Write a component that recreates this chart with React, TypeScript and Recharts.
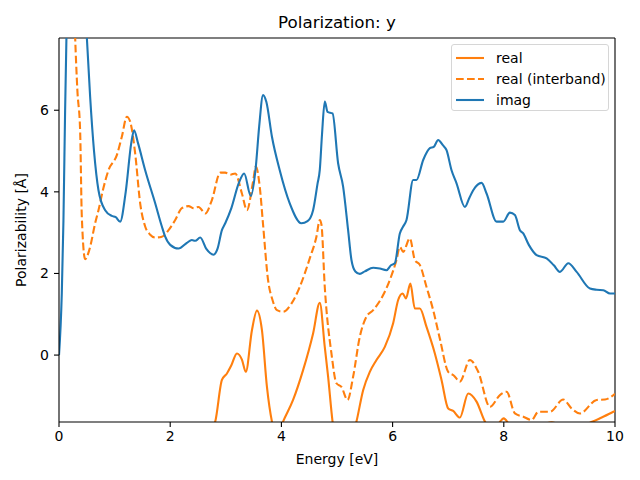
import React from 'react';
import { LineChart, Line, XAxis, YAxis, ReferenceLine } from 'recharts';

const ORANGE = '#ff7f0e';
const BLUE = '#1f77b4';
const FONT = 'DejaVu Sans, sans-serif';

const xTicks = [0, 2, 4, 6, 8, 10];
const yTicks = [0, 2, 4, 6];
const xDomain = [0, 10];
const yDomain = [-1.64, 7.77];

// energy (eV) / value pairs
const imagX = [0, 0.05, 0.08, 0.11, 0.15, 0.25, 0.4, 0.5, 0.56, 0.63, 0.71, 0.83, 0.95, 1.02, 1.1, 1.2, 1.3, 1.35, 1.42, 1.55, 1.73, 1.85, 1.91, 2.0, 2.15, 2.3, 2.39, 2.45, 2.54, 2.65, 2.78, 2.85, 2.93, 2.99, 3.1, 3.23, 3.33, 3.45, 3.54, 3.6, 3.67, 3.73, 3.83, 3.97, 4.15, 4.36, 4.47, 4.57, 4.65, 4.69, 4.73, 4.78, 4.83, 4.92, 5.02, 5.11, 5.2, 5.26, 5.33, 5.41, 5.5, 5.65, 5.77, 5.89, 5.97, 6.04, 6.13, 6.19, 6.25, 6.37, 6.43, 6.55, 6.67, 6.74, 6.82, 6.9, 6.97, 7.06, 7.15, 7.3, 7.38, 7.45, 7.6, 7.69, 7.87, 7.99, 8.11, 8.2, 8.29, 8.35, 8.45, 8.59, 8.77, 8.9, 9.01, 9.16, 9.31, 9.55, 9.67, 9.79, 9.91, 10];
const imagY = [0, 1.5, 3.3, 6, 9, 12, 11, 7.8, 6.33, 5.0, 4.04, 3.55, 3.41, 3.38, 3.27, 4.0, 5.2, 5.51, 5.2, 4.53, 3.72, 3.15, 2.9, 2.7, 2.61, 2.75, 2.82, 2.8, 2.88, 2.6, 2.46, 2.6, 3.06, 3.23, 3.6, 4.2, 4.45, 3.9, 4.62, 5.6, 6.37, 6.2, 5.35, 4.53, 3.72, 3.23, 3.28, 3.55, 4.2, 4.53, 5.4, 6.21, 5.96, 5.92, 4.7, 4.13, 3.06, 2.33, 2.05, 1.99, 2.05, 2.14, 2.12, 2.08, 2.2, 2.25, 2.98, 3.15, 3.31, 4.29, 4.29, 4.78, 5.07, 5.1, 5.27, 5.15, 5.02, 4.53, 4.21, 3.63, 3.85, 4.04, 4.22, 3.96, 3.27, 3.27, 3.49, 3.43, 3.06, 2.98, 2.7, 2.45, 2.37, 2.2, 2.04, 2.25, 2.04, 1.63, 1.6, 1.59, 1.51, 1.51];

const interX = [0, 0.15, 0.25, 0.29, 0.33, 0.38, 0.41, 0.47, 0.55, 0.65, 0.71, 0.8, 0.89, 1.04, 1.13, 1.22, 1.28, 1.37, 1.46, 1.55, 1.64, 1.73, 1.85, 1.97, 2.09, 2.21, 2.33, 2.42, 2.51, 2.63, 2.75, 2.9, 2.99, 3.08, 3.17, 3.29, 3.38, 3.49, 3.54, 3.61, 3.67, 3.76, 3.84, 3.92, 4.03, 4.18, 4.33, 4.51, 4.63, 4.69, 4.72, 4.78, 4.9, 4.99, 5.08, 5.19, 5.29, 5.41, 5.53, 5.65, 5.83, 5.95, 6.07, 6.13, 6.19, 6.31, 6.4, 6.49, 6.61, 6.73, 6.85, 7.0, 7.1, 7.21, 7.39, 7.54, 7.75, 7.93, 8.05, 8.2, 8.35, 8.5, 8.62, 8.83, 9.07, 9.22, 9.37, 9.67, 9.82, 10];
const interY = [20, 14, 9.5, 7.8, 6.5, 5.5, 3.4, 2.35, 2.6, 3.23, 3.55, 4.1, 4.53, 4.9, 5.35, 5.84, 5.72, 4.94, 3.72, 3.15, 2.95, 2.88, 2.9, 3.06, 3.31, 3.6, 3.65, 3.6, 3.63, 3.47, 3.8, 4.47, 4.47, 4.42, 4.45, 3.96, 3.55, 4.25, 4.62, 4.13, 3.2, 1.84, 1.35, 1.1, 1.06, 1.26, 1.67, 2.37, 2.9, 3.31, 3.2, 1.67, 0.04, -0.69, -0.78, -1.1, -0.53, 0.45, 0.94, 1.1, 1.47, 1.84, 2.33, 2.65, 2.53, 2.86, 2.33, 2.21, 1.67, 1.1, 0.4, -0.41, -0.5, -0.65, -0.12, -0.41, -1.27, -0.98, -0.9, -1.43, -1.51, -1.59, -1.39, -1.39, -1.09, -1.31, -1.43, -1.1, -1.09, -0.95];

const realX = [0, 0.5, 1, 1.5, 2, 2.5, 2.81, 2.93, 3.02, 3.1, 3.2, 3.29, 3.36, 3.47, 3.56, 3.65, 3.74, 3.83, 3.92, 4.03, 4.21, 4.39, 4.57, 4.69, 4.78, 4.84, 4.92, 5.1, 5.35, 5.47, 5.59, 5.71, 5.86, 6.01, 6.1, 6.18, 6.24, 6.32, 6.4, 6.49, 6.61, 6.76, 6.88, 7.0, 7.09, 7.21, 7.36, 7.51, 7.66, 7.8, 7.96, 8.0, 8.1, 8.4, 8.86, 9.2, 9.6, 9.73, 9.97, 10];
const realY = [-40, -15, -8, -5, -3.5, -2.4, -1.63, -0.61, -0.45, -0.25, 0.04, -0.11, -0.41, 0.61, 1.09, 0.61, -0.78, -1.63, -2.0, -1.63, -1.1, -0.37, 0.53, 1.28, 0.2, -0.53, -1.63, -2.6, -1.63, -0.86, -0.41, -0.12, 0.2, 0.78, 1.35, 1.51, 1.39, 1.75, 1.14, 1.14, 0.69, 0.04, -0.61, -1.31, -1.37, -1.53, -0.94, -1.14, -1.63, -1.85, -1.59, -1.55, -1.7, -1.85, -1.65, -1.8, -1.63, -1.55, -1.39, -1.37];

const toPoints = (xs: number[], ys: number[]) => xs.map((x, i) => ({ x, y: ys[i] }));

const imagData = toPoints(imagX, imagY);
const interData = toPoints(interX, interY);
const realData = toPoints(realX, realY);

const legendItems = [
  { label: 'real', color: ORANGE, dash: undefined },
  { label: 'real (interband)', color: ORANGE, dash: '7.7 3.3' },
  { label: 'imag', color: BLUE, dash: undefined },
];

const LegendBox = () => (
  <div
    style={{
      position: 'absolute',
      left: 451,
      top: 44,
      width: 158,
      height: 67,
      border: '1px solid #d6d6d6',
      borderRadius: 3,
      background: 'rgba(255,255,255,0.8)',
      padding: '2px 0 0 4px',
      fontFamily: FONT,
      fontSize: 14,
      color: '#000',
      boxSizing: 'border-box',
      whiteSpace: 'nowrap',
    }}
  >
    {legendItems.map((it) => (
      <div key={it.label} style={{ display: 'flex', alignItems: 'center', height: 21.3 }}>
        <svg width={28} height={10} style={{ marginRight: 12 }}>
          <line x1={0} y1={5} x2={28} y2={5} stroke={it.color} strokeWidth={2.1} strokeDasharray={it.dash} />
        </svg>
        <span>{it.label}</span>
      </div>
    ))}
  </div>
);

const axisStroke = { stroke: '#000', strokeWidth: 1.1 };

export default function App() {
  return (
    <div style={{ position: 'absolute', left: 0, top: 0, width: 640, height: 480, background: '#fff' }}>
      <LineChart width={640} height={480} margin={{ top: 38, right: 25, bottom: 0, left: 0 }}>
        <XAxis
          dataKey="x"
          type="number"
          domain={xDomain}
          ticks={xTicks}
          allowDataOverflow
          height={58}
          tickSize={5}
          tickMargin={4}
          axisLine={axisStroke}
          tickLine={axisStroke}
          tick={{ fill: '#000', fontSize: 14, fontFamily: FONT }}
          label={{
            content: ({ viewBox }: any) => (
              <text x={viewBox.x + viewBox.width / 2} y={viewBox.y + 42} textAnchor="middle" fontSize={14} fontFamily={FONT} fill="#000">
                Energy [eV]
              </text>
            ),
          }}
        />
        <YAxis
          type="number"
          domain={yDomain}
          ticks={yTicks}
          allowDataOverflow
          width={59}
          tickSize={5}
          tickMargin={5}
          axisLine={axisStroke}
          tickLine={axisStroke}
          tick={{ fill: '#000', fontSize: 14, fontFamily: FONT }}
          label={{
            content: ({ viewBox }: any) => {
              const cy = viewBox.y + viewBox.height / 2;
              return (
                <text x={26} y={cy} transform={`rotate(-90 26 ${cy})`} textAnchor="middle" fontSize={14} fontFamily={FONT} fill="#000">
                  Polarizability [Å]
                </text>
              );
            },
          }}
        />
        <ReferenceLine x={xDomain[1]} stroke="#000" strokeWidth={1.1} />
        <ReferenceLine
          y={yDomain[1]}
          stroke="#000"
          strokeWidth={1.1}
          label={{
            content: ({ viewBox }: any) => (
              <text x={viewBox.x + viewBox.width / 2} y={28} textAnchor="middle" fontSize={16.7} fontFamily={FONT} fill="#000">
                Polarization: y
              </text>
            ),
          }}
        />
        <Line data={realData} dataKey="y" type="monotone" stroke={ORANGE} strokeWidth={2.1} dot={false} activeDot={false} isAnimationActive={false} name="real" />
        <Line data={interData} dataKey="y" type="monotone" stroke={ORANGE} strokeWidth={2.1} strokeDasharray="7.7 3.3" dot={false} activeDot={false} isAnimationActive={false} name="real (interband)" />
        <Line data={imagData} dataKey="y" type="monotone" stroke={BLUE} strokeWidth={2.1} dot={false} activeDot={false} isAnimationActive={false} name="imag" />
      </LineChart>
      <LegendBox />
    </div>
  );
}
